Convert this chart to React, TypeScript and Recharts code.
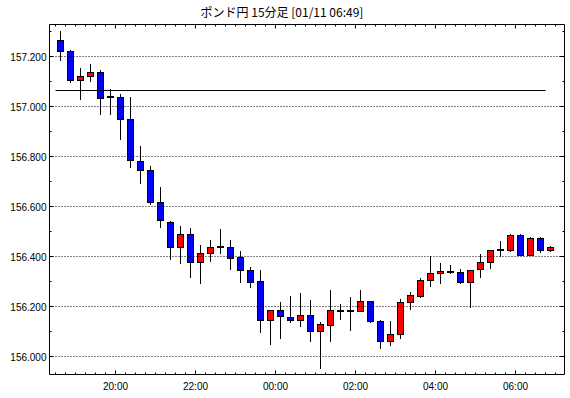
import { ComposedChart, Bar, XAxis, YAxis, ReferenceLine } from 'recharts';

const times = [
  '18:30', '18:45', '19:00', '19:15', '19:30', '19:45', '20:00', '20:15', '20:30', '20:45',
  '21:00', '21:15', '21:30', '21:45', '22:00', '22:15', '22:30', '22:45', '23:00', '23:15',
  '23:30', '23:45', '00:00', '00:15', '00:30', '00:45', '01:00', '01:15', '01:30', '01:45',
  '02:00', '02:15', '02:30', '02:45', '03:00', '03:15', '03:30', '03:45', '04:00', '04:15',
  '04:30', '04:45', '05:00', '05:15', '05:30', '05:45', '06:00', '06:15', '06:30', '06:45',
];

const opens = [
  157.264, 157.223, 157.107, 157.123, 157.139, 157.038, 157.04, 156.951, 156.784, 156.748,
  156.616, 156.54, 156.436, 156.492, 156.376, 156.416, 156.439, 156.436, 156.398, 156.345,
  156.302, 156.145, 156.185, 156.157, 156.145, 156.165, 156.101, 156.125, 156.183, 156.181,
  156.181, 156.221, 156.141, 156.061, 156.089, 156.217, 156.243, 156.305, 156.333, 156.339,
  156.337, 156.297, 156.349, 156.376, 156.424, 156.424, 156.484, 156.408, 156.476, 156.424,
];
const highs = [
  157.3, 157.225, 157.153, 157.172, 157.144, 157.068, 157.048, 157.04, 156.841, 156.761,
  156.677, 156.541, 156.521, 156.516, 156.446, 156.465, 156.511, 156.465, 156.422, 156.359,
  156.346, 156.186, 156.218, 156.242, 156.254, 156.226, 156.137, 156.266, 156.211, 156.238,
  156.266, 156.222, 156.145, 156.142, 156.23, 156.258, 156.313, 156.404, 156.372, 156.368,
  156.349, 156.346, 156.41, 156.428, 156.46, 156.492, 156.492, 156.477, 156.48, 156.444,
];
const lows = [
  157.185, 157.097, 157.031, 157.101, 156.97, 156.97, 156.87, 156.758, 156.692, 156.612,
  156.519, 156.392, 156.372, 156.319, 156.295, 156.384, 156.412, 156.351, 156.299, 156.279,
  156.099, 156.052, 156.076, 156.139, 156.123, 156.06, 155.953, 156.06, 156.151, 156.107,
  156.181, 156.137, 156.032, 156.047, 156.072, 156.189, 156.237, 156.283, 156.295, 156.333,
  156.293, 156.197, 156.317, 156.352, 156.4, 156.423, 156.407, 156.407, 156.42, 156.423,
];
const closes = [
  157.223, 157.107, 157.124, 157.139, 157.035, 157.038, 156.95, 156.785, 156.748, 156.616,
  156.545, 156.436, 156.492, 156.376, 156.416, 156.44, 156.439, 156.396, 156.345, 156.299,
  156.145, 156.185, 156.161, 156.145, 156.165, 156.101, 156.129, 156.185, 156.183, 156.181,
  156.221, 156.141, 156.061, 156.089, 156.217, 156.245, 156.305, 156.333, 156.341, 156.339,
  156.297, 156.345, 156.376, 156.424, 156.424, 156.484, 156.408, 156.476, 156.424, 156.436,
];

const yTicks = [156.0, 156.1, 156.2, 156.3, 156.4, 156.5, 156.6, 156.7, 156.8, 156.9, 157.0, 157.1, 157.2, 157.3];
const gridLevels = [156.0, 156.2, 156.4, 156.6, 156.8, 157.0, 157.2];
const refLevel = 157.064;
const title = 'ポンド円 15分足 [01/11 06:49]';

const UP = '#ff0000';
const DOWN = '#0000ff';
const FONT = '"Liberation Sans", Arial, sans-serif';

const data = times.map((t, i) => ({
  idx: i,
  time: t,
  open: opens[i],
  high: highs[i],
  low: lows[i],
  close: closes[i],
}));

const xTicks = [...times.map((_, i) => i - 0.5), times.length - 0.5];

const crisp = (v: number) => Math.round(v - 0.5) + 0.5;

const isMajorTime = (k: number) => {
  const t = times[k];
  if (!t || !t.endsWith(':00')) return false;
  return parseInt(t, 10) % 2 === 0;
};

function Candle(props: any) {
  const { x, y, width, height, payload } = props;
  if (!payload || height == null) return null;
  const { open, high, low, close } = payload;
  const toPx = (v: number) => y + ((high - v) / (high - low)) * height;
  const cx = crisp(x + width / 2);
  const hi = Math.round(toPx(high));
  const lo = Math.round(toPx(low));
  const o = Math.round(toPx(open));
  const c = Math.round(toPx(close));
  const top = Math.min(o, c);
  const bot = Math.max(o, c);
  const color = close > open ? UP : DOWN;
  return (
    <g>
      <line x1={cx} x2={cx} y1={hi} y2={lo + 1} stroke="#000" strokeWidth={1} />
      {bot - top < 1 ? (
        <rect x={cx - 3} y={top - 0.5} width={6} height={1} fill="#000" stroke="#000" strokeWidth={1} />
      ) : (
        <rect x={cx - 3} y={top + 0.5} width={6} height={bot - top} fill={color} stroke="#000" strokeWidth={1} />
      )}
    </g>
  );
}

function BottomTick(props: any) {
  const { x, y, payload } = props;
  const k = Math.round(payload.value + 0.5);
  const major = isMajorTime(k);
  const px = crisp(x);
  return (
    <g>
      <line x1={px} x2={px} y1={y} y2={y - (major ? 4 : 2)} stroke="#000" />
      {major && (
        <text x={px} y={y + 15} textAnchor="middle" fontSize={10} fontFamily={FONT} fill="#000">
          {times[k]}
        </text>
      )}
    </g>
  );
}

function TopTick(props: any) {
  const { x, y, payload } = props;
  const k = Math.round(payload.value + 0.5);
  const major = isMajorTime(k);
  const px = crisp(x);
  return <line x1={px} x2={px} y1={y} y2={y + (major ? 4 : 2)} stroke="#000" />;
}

function LeftTick(props: any) {
  const { x, y, payload } = props;
  const major = Math.round(payload.value * 10) % 2 === 0;
  const py = crisp(y);
  return (
    <g>
      <line x1={x} x2={x + (major ? 4 : 2)} y1={py} y2={py} stroke="#000" />
      {major && (
        <text x={x - 3} y={py + 4} textAnchor="end" fontSize={10} fontFamily={FONT} fill="#000">
          {payload.value.toFixed(3)}
        </text>
      )}
    </g>
  );
}

function RightTick(props: any) {
  const { x, y, payload } = props;
  const major = Math.round(payload.value * 10) % 2 === 0;
  const py = crisp(y);
  return <line x1={x} x2={x - (major ? 5 : 2)} y1={py} y2={py} stroke="#000" />;
}

export default function App() {
  const xDomain = [-1.1, 50.4];
  const yDomain = [155.928, 157.328];
  return (
    <div style={{ position: 'relative', width: 570, height: 398, background: '#fff' }}>
      <style>{'body{margin:0;}'}</style>
      <div
        style={{
          position: 'absolute',
          left: 0,
          top: 4,
          width: 564,
          textAlign: 'center',
          fontFamily: '"Noto Sans CJK JP", sans-serif',
          fontSize: 12,
          lineHeight: '16px',
          color: '#000',
        }}
      >
        {title}
      </div>
      <ComposedChart width={570} height={398} data={data} margin={{ top: 0, right: 0, bottom: 0, left: 0 }}>
        <XAxis
          xAxisId="b"
          dataKey="idx"
          type="number"
          domain={xDomain}
          allowDataOverflow
          ticks={xTicks}
          interval={0}
          height={23.5}
          tickLine={false}
          tickSize={0}
          tickMargin={0}
          axisLine={{ stroke: '#000' }}
          tick={<BottomTick />}
        />
        <XAxis
          xAxisId="t"
          orientation="top"
          dataKey="idx"
          type="number"
          domain={xDomain}
          allowDataOverflow
          ticks={xTicks}
          interval={0}
          height={24.5}
          tickLine={false}
          tickSize={0}
          tickMargin={0}
          axisLine={{ stroke: '#000' }}
          tick={<TopTick />}
        />
        <YAxis
          yAxisId="l"
          type="number"
          domain={yDomain}
          allowDataOverflow
          ticks={yTicks}
          interval={0}
          width={49.5}
          tickLine={false}
          tickSize={0}
          tickMargin={0}
          axisLine={{ stroke: '#000' }}
          tick={<LeftTick />}
        />
        <YAxis
          yAxisId="r"
          orientation="right"
          type="number"
          domain={yDomain}
          allowDataOverflow
          ticks={yTicks}
          interval={0}
          width={5.5}
          tickLine={false}
          tickSize={0}
          tickMargin={0}
          axisLine={{ stroke: '#000' }}
          tick={<RightTick />}
        />
        {gridLevels.map((v) => (
          <ReferenceLine
            key={v}
            xAxisId="b"
            yAxisId="l"
            y={v}
            stroke="#000"
            strokeDasharray="1 2"
          />
        ))}
        <ReferenceLine
          xAxisId="b"
          yAxisId="l"
          segment={[
            { x: -0.5, y: refLevel },
            { x: 48.5, y: refLevel },
          ]}
          stroke="#000"
          strokeWidth={1}
        />
        <Bar
          xAxisId="b"
          yAxisId="l"
          dataKey={(d: any) => [d.low, d.high]}
          barSize={6}
          shape={(p: any) => <Candle {...p} />}
          isAnimationActive={false}
        />
      </ComposedChart>
    </div>
  );
}
